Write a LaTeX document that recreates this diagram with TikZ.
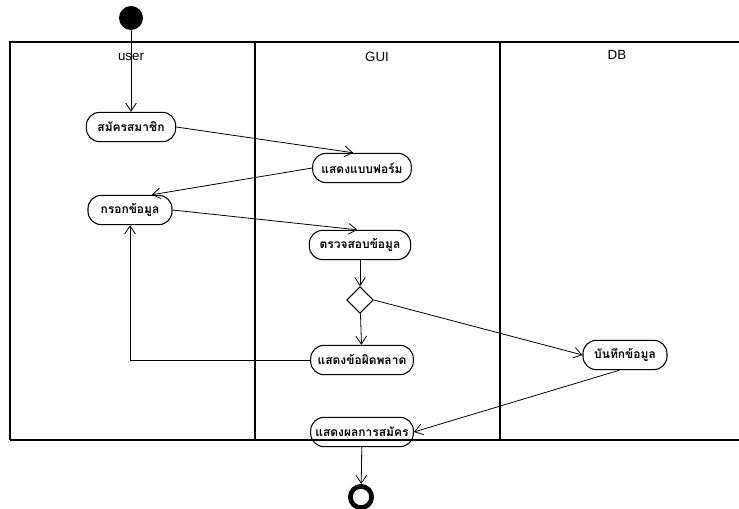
\documentclass[tikz,border=0pt]{standalone}
\usepackage{fontspec}
\setsansfont{Liberation Sans}
\newfontfamily\thaifont[Script=Thai]{Loma}
\usepackage{tikz}
\usetikzlibrary{arrows.meta,positioning,shapes.geometric}

\begin{document}
\begin{tikzpicture}[
  x=0.75pt, y=-0.75pt,
  act/.style={draw, thick, rounded corners=10pt, minimum height=22pt, inner xsep=3pt, font=\thaifont\small\bfseries},
  flow/.style={semithick, -{Straight Barb[length=6pt,width=8pt]}},
  lanelab/.style={font=\sffamily},
]
  \useasboundingbox (0,0) rectangle (739,509);

  % Swimlanes
  \draw[thick] (10,440) -- (10,42) -- (739,42);
  \draw[thick] (10,440) -- (739,440);
  \draw[thick] (255,42) -- (255,440);
  \draw[thick] (500,42) -- (500,440);
  \node[lanelab] (luser) at (131,57) {user};
  \node[lanelab] (lgui) at (377,57) {GUI};
  \node[lanelab] (ldb) at (617,55) {DB};

  % Start and end
  \node[circle, fill=black, minimum size=18pt, inner sep=0pt] (start) at (131,18) {};
  \node[circle, draw, line width=3.5pt, fill=white, minimum size=16pt, inner sep=0pt] (stop) at (361,497) {};

  % Activities
  \node[act, minimum width=67pt] (regist) at (131,127) {สมัครสมาชิก};
  \node[act, minimum width=74pt] (showform) at (362,168) {แสดงแบบฟอร์ม};
  \node[act, minimum width=63pt] (fillin) at (130,210) {กรอกข้อมูล};
  \node[act, minimum width=76pt] (check) at (360,245) {ตรวจสอบข้อมูล};
  \node[draw, thick, diamond, minimum size=20pt, inner sep=0pt] (dec) at (360,300) {};
  \node[act, minimum width=77pt] (showerr) at (362,360) {แสดงข้อผิดพลาด};
  \node[act, minimum width=63pt] (save) at (625,355) {บันทึกข้อมูล};
  \node[act, minimum width=77pt] (result) at (362,432) {แสดงผลการสมัคร};

  % Flows
  \draw[flow] (start) -- (regist);
  \draw[flow] (regist.east) -- (showform.120);
  \draw[flow] (showform.west) -- (fillin.35);
  \draw[flow] (fillin.east) -- (check.100);
  \draw[flow] (check) -- (dec);
  \draw[flow] (dec) -- (showerr);
  \draw[flow] (dec.east) -- (save.west);
  \draw[flow] (showerr.west) -| (fillin.south);
  \draw[flow] (save.250) -- (result.east);
  \draw[flow] (result) -- (stop);
\end{tikzpicture}
\end{document}
